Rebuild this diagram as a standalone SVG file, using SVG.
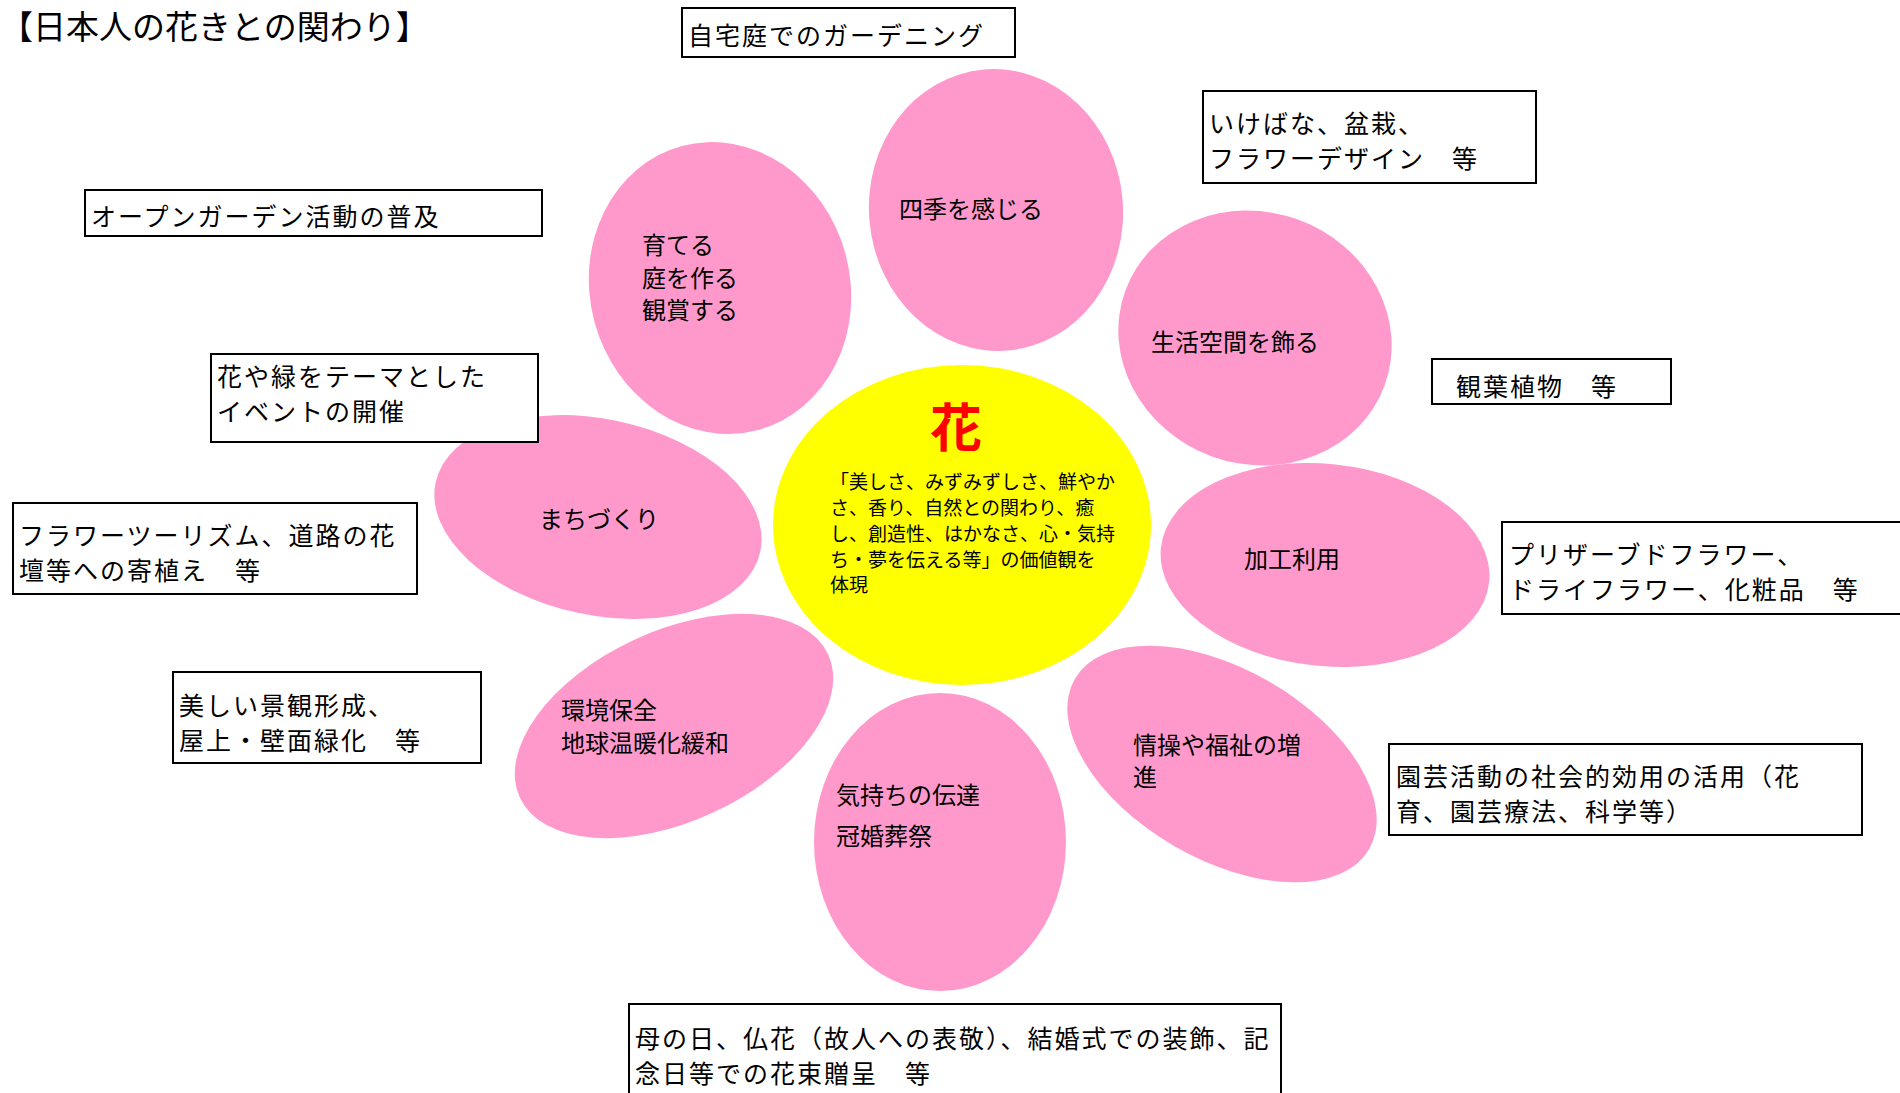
<svg xmlns="http://www.w3.org/2000/svg" width="1900" height="1093" viewBox="0 0 1900 1093">
<style>
text{font-family:"Noto Sans CJK JP","Noto Sans CJK SC",sans-serif;fill:#000}
.box{fill:#fff;stroke:#000;stroke-width:2}
.bt{font-size:25px;letter-spacing:2px}
.petal{fill:#FF99CC}
.pt{font-size:24px}
.ct{font-size:19px}
</style>
<rect width="1900" height="1093" fill="#fff"/>
<text x="0" y="39" font-size="33">【日本人の花きとの関わり】</text>
<g id="petals">
<g id="petal-sodateru"><ellipse class="petal" cx="720" cy="288" rx="130" ry="147" transform="rotate(-15 720 288)"/>
<text class="pt" x="642" y="254">育てる<tspan x="642" y="287">庭を作る</tspan><tspan x="642" y="319">観賞する</tspan></text></g>
<g id="petal-shiki"><ellipse class="petal" cx="996" cy="210" rx="127" ry="141" transform="rotate(-5 996 210)"/>
<text class="pt" x="899" y="218">四季を感じる</text></g>
<g id="petal-seikatsu"><ellipse class="petal" cx="1255" cy="338" rx="138" ry="126" transform="rotate(20 1255 338)"/>
<text class="pt" x="1151" y="351">生活空間を飾る</text></g>
<g id="petal-machi"><ellipse class="petal" cx="598" cy="517" rx="166" ry="98" transform="rotate(12 598 517)"/>
<text class="pt" x="539" y="528">まちづくり</text></g>
<g id="petal-kakou"><ellipse class="petal" cx="1325" cy="565" rx="165" ry="101" transform="rotate(6 1325 565)"/>
<text class="pt" x="1244" y="568">加工利用</text></g>
<g id="petal-kankyou"><ellipse class="petal" cx="674" cy="726" rx="170" ry="95" transform="rotate(-25 674 726)"/>
<text class="pt" x="561" y="719">環境保全<tspan x="561" y="752">地球温暖化緩和</tspan></text></g>
<g id="petal-kimochi"><ellipse class="petal" cx="940" cy="842" rx="126" ry="149"/>
<text class="pt" x="836" y="804">気持ちの伝達<tspan x="836" y="845">冠婚葬祭</tspan></text></g>
<g id="petal-jousou"><ellipse class="petal" cx="1222" cy="764" rx="170" ry="95" transform="rotate(30 1222 764)"/>
<text class="pt" x="1133" y="754">情操や福祉の増<tspan x="1133" y="786">進</tspan></text></g>
</g>
<g id="center">
<ellipse cx="962" cy="525" rx="189" ry="160" fill="#FFFF00"/>
<text x="956" y="447" font-size="52" font-weight="bold" style="fill:#FF0000" text-anchor="middle">花</text>
<text class="ct" x="830" y="489">「美しさ、みずみずしさ、鮮やか<tspan x="830" y="515">さ、香り、自然との関わり、癒</tspan><tspan x="830" y="541">し、創造性、はかなさ、心・気持</tspan><tspan x="830" y="567">ち・夢を伝える等」の価値観を</tspan><tspan x="830" y="592">体現</tspan></text>
</g>
<g id="box-jitaku"><rect class="box" x="682" y="8" width="333" height="49"/><text class="bt" x="688" y="45">自宅庭でのガーデニング</text></g>
<g id="box-ikebana"><rect class="box" x="1203" y="91" width="333" height="92"/><text class="bt" x="1209" y="133">いけばな、盆栽、<tspan x="1209" y="168">フラワーデザイン　等</tspan></text></g>
<g id="box-open"><rect class="box" x="85" y="190" width="457" height="46"/><text class="bt" x="91" y="226">オープンガーデン活動の普及</text></g>
<g id="box-event"><rect class="box" x="211" y="354" width="327" height="88"/><text class="bt" x="217" y="386">花や緑をテーマとした<tspan x="217" y="421">イベントの開催</tspan></text></g>
<g id="box-kanyou"><rect class="box" x="1432" y="359" width="239" height="45"/><text class="bt" x="1456" y="396">観葉植物　等</text></g>
<g id="box-tourism"><rect class="box" x="13" y="503" width="404" height="91"/><text class="bt" x="19" y="545">フラワーツーリズム、道路の花<tspan x="19" y="580">壇等への寄植え　等</tspan></text></g>
<g id="box-preserved"><rect class="box" x="1502" y="522" width="410" height="92"/><text class="bt" x="1509" y="564">プリザーブドフラワー、<tspan x="1509" y="599">ドライフラワー、化粧品　等</tspan></text></g>
<g id="box-keikan"><rect class="box" x="173" y="672" width="308" height="91"/><text class="bt" x="179" y="715">美しい景観形成、<tspan x="179" y="750">屋上・壁面緑化　等</tspan></text></g>
<g id="box-engei"><rect class="box" x="1389" y="744" width="473" height="91"/><text class="bt" x="1396" y="786">園芸活動の社会的効用の活用（花<tspan x="1396" y="821">育、園芸療法、科学等）</tspan></text></g>
<g id="box-hahanohi"><rect class="box" x="629" y="1004" width="652" height="100"/><text class="bt" x="635" y="1048">母の日、仏花（故人への表敬）、結婚式での装飾、記<tspan x="635" y="1083">念日等での花束贈呈　等</tspan></text></g>
<g id="connectors"/>
</svg>
